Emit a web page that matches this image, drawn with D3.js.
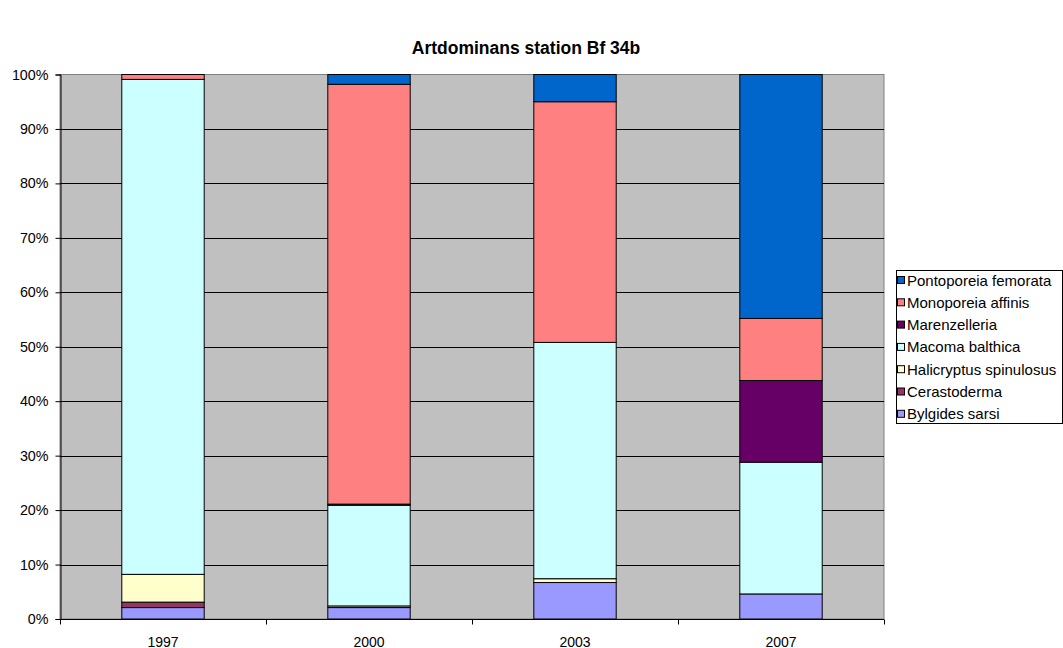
<!DOCTYPE html>
<html>
<head>
<meta charset="utf-8">
<script src="https://cdn.jsdelivr.net/npm/d3@7"></script>
<style>
  body { margin: 0; background: #fff; }
  svg { display: block; font-family: "Liberation Sans", Arial, sans-serif; }
</style>
</head>
<body>
<svg id="chart" width="1063" height="648"></svg>
<script>
// Years sampled at station Bf 34b
const years = ["1997", "2000", "2003", "2007"];

// Share of each taxon (%) per year, listed bottom to top in the stack
const bylgides      = [2.1, 2.1, 6.7, 4.6];
const cerastoderma  = [1.0, 0.0, 0.0, 0.0];
const halicryptus   = [5.1, 0.3, 0.7, 0.0];
const macoma        = [90.9, 18.5, 43.4, 24.2];
const marenzelleria = [0.0, 0.2, 0.0, 15.0];
const monoporeia    = [0.9, 77.1, 44.2, 11.4];
const pontoporeia   = [0.0, 1.8, 5.0, 44.8];

const seriesNames = ["Bylgides sarsi", "Cerastoderma", "Halicryptus spinulosus",
  "Macoma balthica", "Marenzelleria", "Monoporeia affinis", "Pontoporeia femorata"];
const seriesValues = [bylgides, cerastoderma, halicryptus, macoma, marenzelleria, monoporeia, pontoporeia];
const seriesColors = ["#9999FF", "#993366", "#FFFFCC", "#CCFFFF", "#660066", "#FF8080", "#0066CC"];

const yTicks = [0, 10, 20, 30, 40, 50, 60, 70, 80, 90, 100];

const svg = d3.select("#chart");
const plot = { left: 60, right: 884, top: 74.5, bottom: 619 };

const x = d3.scaleBand().domain(years).range([plot.left, plot.right])
  .paddingInner(0.6).paddingOuter(0.3);
const xEdges = d3.scaleLinear().domain([0, years.length]).range([plot.left, plot.right]);
const y = d3.scaleLinear().domain([0, 100]).range([plot.bottom, plot.top]);

// Title
svg.append("text")
  .attr("x", 526).attr("y", 54)
  .attr("text-anchor", "middle")
  .style("font-size", "17.5px").style("font-weight", "bold")
  .text("Artdominans station Bf 34b");

// Plot background
svg.append("rect")
  .attr("x", plot.left).attr("y", plot.top)
  .attr("width", plot.right - plot.left).attr("height", plot.bottom - plot.top)
  .attr("fill", "#C0C0C0").attr("stroke", "#808080").attr("stroke-width", 1);

// Horizontal gridlines
svg.append("g").selectAll("line")
  .data(yTicks.filter(t => t > 0 && t < 100))
  .join("line")
  .attr("x1", plot.left).attr("x2", plot.right)
  .attr("y1", d => Math.round(y(d)) + 0.5).attr("y2", d => Math.round(y(d)) + 0.5)
  .attr("stroke", "#000").attr("stroke-width", 1);

// Stacked bars
const rows = years.map((yr, i) => {
  const r = { year: yr };
  seriesNames.forEach((n, j) => { r[n] = seriesValues[j][i]; });
  return r;
});
const stack = d3.stack().keys(seriesNames)(rows);

svg.append("g").selectAll("g")
  .data(stack)
  .join("g")
  .attr("fill", (d, i) => seriesColors[i])
  .selectAll("rect")
  .data(d => d.filter(s => s[1] - s[0] > 0))
  .join("rect")
  .attr("x", d => x(d.data.year))
  .attr("width", x.bandwidth())
  .attr("y", d => y(d[1]))
  .attr("height", d => y(d[0]) - y(d[1]))
  .attr("stroke", "#000").attr("stroke-width", 1);

// Y axis
const yAxis = d3.axisLeft(y).tickValues(yTicks).tickFormat(d => d + "%").tickSize(5).tickPadding(7);
const gy = svg.append("g").attr("transform", `translate(${plot.left + 0.5},0)`).call(yAxis);
gy.select(".domain").attr("stroke", "#000");
gy.selectAll(".tick line").attr("stroke", "#000");
gy.selectAll(".tick text").style("font-size", "14.3px").attr("fill", "#000")
  .style("font-family", "'Liberation Sans', Arial, sans-serif");

// X axis: ticks on category boundaries, labels at band centres
const gx = svg.append("g").attr("transform", `translate(0,${plot.bottom + 0.5})`);
gx.append("line").attr("x1", plot.left).attr("x2", plot.right).attr("stroke", "#000");
gx.selectAll("line.tk")
  .data(d3.range(years.length + 1))
  .join("line").attr("class", "tk")
  .attr("x1", d => Math.round(xEdges(d)) + 0.5).attr("x2", d => Math.round(xEdges(d)) + 0.5)
  .attr("y1", 0).attr("y2", 5).attr("stroke", "#000");
gx.selectAll("text")
  .data(years)
  .join("text")
  .attr("x", d => x(d) + x.bandwidth() / 2)
  .attr("y", 27)
  .attr("text-anchor", "middle")
  .style("font-size", "14px")
  .text(d => d);

// Legend (top entry is the top of the stack)
const legend = svg.append("g");
legend.append("rect")
  .attr("x", 896.5).attr("y", 270.5).attr("width", 166).attr("height", 153)
  .attr("fill", "#fff").attr("stroke", "#000");
const legendItems = seriesNames.map((n, i) => ({ name: n, color: seriesColors[i] })).reverse();
const li = legend.selectAll("g.item")
  .data(legendItems)
  .join("g").attr("class", "item")
  .attr("transform", (d, i) => `translate(0,${280 + i * 22.3})`);
li.append("rect")
  .attr("x", 897.5).attr("y", -3.5).attr("width", 7).attr("height", 7)
  .attr("fill", d => d.color).attr("stroke", "#000");
li.append("text")
  .attr("x", 907).attr("y", 5.5)
  .style("font-size", "15px")
  .text(d => d.name);
</script>
</body>
</html>
